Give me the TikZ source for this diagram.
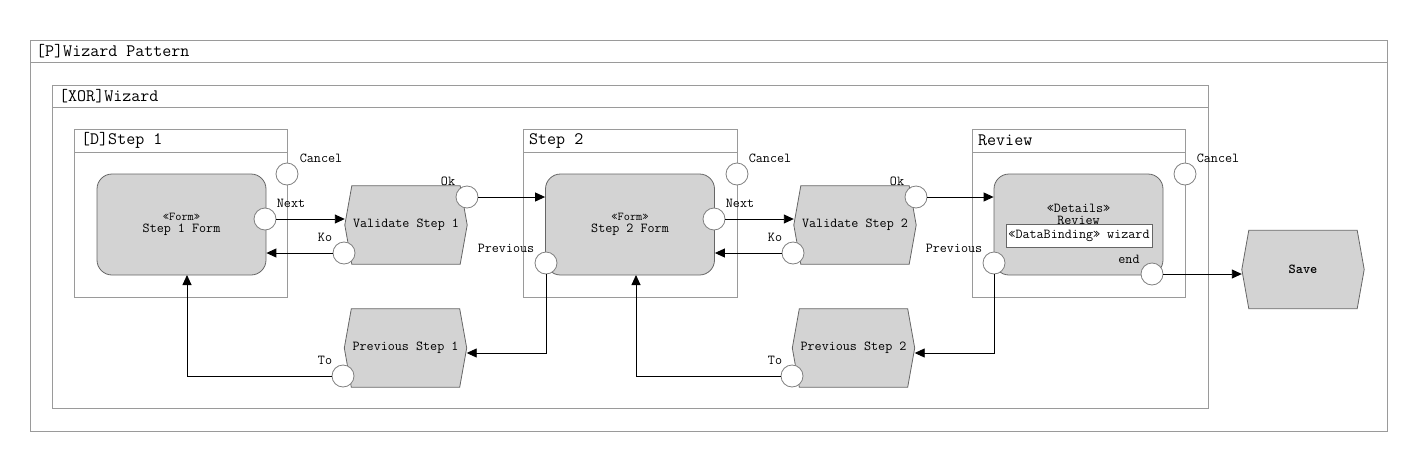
\documentclass[tikz,border=0pt]{standalone}
\usepackage{fontspec}
\usetikzlibrary{arrows.meta,backgrounds}
\definecolor{framegray}{HTML}{9A9A9A}
\definecolor{shapegray}{HTML}{666666}
\definecolor{portgray}{HTML}{808080}
\definecolor{formfill}{HTML}{D3D3D3}
\newcommand\hexpath[1]{\filldraw[hexdraw] ([xshift=7pt]#1.north west) -- (#1.west) -- ([xshift=7pt]#1.south west) -- ([xshift=-7pt]#1.south east) -- (#1.east) -- ([xshift=-7pt]#1.north east) -- cycle;}
\newcommand\heavytt{\ttfamily\addfontfeature{FakeBold=0.8}}
\begin{document}
\begin{tikzpicture}[x=1pt,y=-1pt,
  font=\heavytt\fontsize{13.7}{13}\selectfont,
  frame/.style={draw=framegray, line width=0.8pt, anchor=north west, inner sep=0pt},
  ftitle/.style={anchor=west, inner sep=0pt, font=\heavytt\fontsize{17.5}{18}\selectfont},
  form/.style={draw=shapegray, fill=formfill, line width=0.8pt, rounded corners=15pt, minimum width=169pt, minimum height=101pt, align=center, inner sep=0pt},
  hexn/.style={minimum width=122pt, minimum height=78pt, inner sep=0pt},
  hexdraw/.style={draw=shapegray, fill=formfill, line width=0.8pt},
  port/.style={circle, draw=portgray, fill=white, line width=0.8pt, minimum size=22pt, inner sep=0pt},
  plabel/.style={inner sep=0pt},
  dbbox/.style={draw=shapegray, fill=white, line width=0.8pt, minimum width=146pt, minimum height=23pt, inner sep=0pt},
  arr/.style={-{Triangle[length=10pt,width=9pt]}, line width=0.9pt}
]
\useasboundingbox (0,0) rectangle (1417,472);

% containers
\node[frame, minimum width=1357pt, minimum height=391pt] (P) at (30,40) {};
\draw[draw=framegray, line width=0.8pt] ([yshift=-22pt]P.north west) -- ([yshift=-22pt]P.north east);
\node[ftitle] (Pt) at (36,51) {[P]Wizard Pattern};

\node[frame, minimum width=1156pt, minimum height=323pt] (W) at (52,85) {};
\draw[draw=framegray, line width=0.8pt] ([yshift=-22pt]W.north west) -- ([yshift=-22pt]W.north east);
\node[ftitle] (Wt) at (59,96) {[XOR]Wizard};

\node[frame, minimum width=213pt, minimum height=168pt] (S1) at (74,129) {};
\draw[draw=framegray, line width=0.8pt] ([yshift=-23pt]S1.north west) -- ([yshift=-23pt]S1.north east);
\node[ftitle] (S1t) at (81,140.5) {[D]Step 1};

\node[frame, minimum width=214pt, minimum height=168pt] (S2) at (523,129) {};
\draw[draw=framegray, line width=0.8pt] ([yshift=-23pt]S2.north west) -- ([yshift=-23pt]S2.north east);
\node[ftitle] (S2t) at (529,140.5) {Step 2};

\node[frame, minimum width=213pt, minimum height=168pt] (R) at (972,129) {};
\draw[draw=framegray, line width=0.8pt] ([yshift=-23pt]R.north west) -- ([yshift=-23pt]R.north east);
\node[ftitle] (Rt) at (978,140.5) {Review};

% forms
\node[form] (f1) at (181.5,224.5) {{\fontsize{12}{12}\selectfont«Form»}\\[-1pt]Step 1 Form};
\node[form] (f2) at (630,224.5) {{\fontsize{12}{12}\selectfont«Form»}\\[-1pt]Step 2 Form};
\node[form] (fR) at (1078.5,224.5) {};
\node[inner sep=0pt] (fRs) at (1078.5,208) {«Details»};
\node[inner sep=0pt] (fRn) at (1078.5,220) {Review};
\node[dbbox] (db) at (1079,235.5) {«DataBinding» wizard};

% hexagons
\node[hexn] (v1) at (406,225) {Validate Step 1};
\node[hexn] (v2) at (855,225) {Validate Step 2};
\node[hexn] (ps1) at (405.5,348) {Previous Step 1};
\node[hexn] (ps2) at (853.5,348) {Previous Step 2};
\node[hexn] (save) at (1303,269.5) {\bfseries Save};
\begin{pgfonlayer}{background}
\hexpath{v1}
\hexpath{v2}
\hexpath{ps1}
\hexpath{ps2}
\hexpath{save}
\end{pgfonlayer}

% ports
\node[port] (c1) at (287,174) {};
\node[port] (n1) at (265,219) {};
\node[port] (ok1) at (467,197) {};
\node[port] (ko1) at (344,253) {};
\node[port] (c2) at (737,174) {};
\node[port] (pv2) at (546,263) {};
\node[port] (n2) at (714,219) {};
\node[port] (ok2) at (916,197) {};
\node[port] (ko2) at (793,253) {};
\node[port] (cR) at (1185,174) {};
\node[port] (pvR) at (994,263) {};
\node[port] (endp) at (1152,274) {};
\node[port] (to1) at (343,376) {};
\node[port] (to2) at (792,376) {};

% port labels
\node[plabel] (lc1) at (321,158) {Cancel};
\node[plabel] (ln1) at (291,203) {Next};
\node[plabel] (lok1) at (448,181) {Ok};
\node[plabel] (lko1) at (325,237) {Ko};
\node[plabel] (lc2) at (770,158) {Cancel};
\node[plabel] (lpv2) at (506,248) {Previous};
\node[plabel] (ln2) at (740,203) {Next};
\node[plabel] (lok2) at (897,181) {Ok};
\node[plabel] (lko2) at (775,237) {Ko};
\node[plabel] (lcR) at (1218,158) {Cancel};
\node[plabel] (lpvR) at (954,248) {Previous};
\node[plabel] (lend) at (1129,259) {end};
\node[plabel] (lto1) at (325,360) {To};
\node[plabel] (lto2) at (775,360) {To};

% connector anchors
\coordinate (f1b) at (187,275);
\coordinate (f2b) at (636,275);

% connectors
\draw[arr] (n1.east) -- (n1.east -| v1.west);
\draw[arr] (ko1.west) -- (ko1.west -| f1.east);
\draw[arr] (ok1.east) -- (ok1.east -| f2.west);
\draw[arr] (n2.east) -- (n2.east -| v2.west);
\draw[arr] (ko2.west) -- (ko2.west -| f2.east);
\draw[arr] (ok2.east) -- (ok2.east -| fR.west);
\draw[arr] (endp.east) -- (endp.east -| save.west);
\draw[arr] (pv2.south) |- ([yshift=-5pt]ps1.east);
\draw[arr] (pvR.south) |- ([yshift=-5pt]ps2.east);
\draw[arr] (to1.west) -| (f1b);
\draw[arr] (to2.west) -| (f2b);
\end{tikzpicture}
\end{document}
